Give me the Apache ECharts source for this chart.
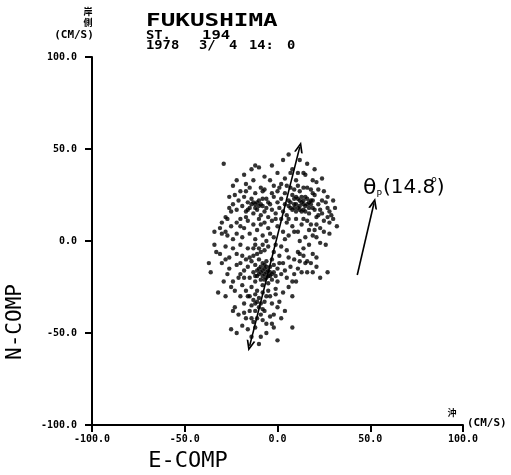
<!DOCTYPE html>
<html>
<head>
<meta charset="utf-8">
<script src="https://cdn.jsdelivr.net/npm/echarts@6/dist/echarts.min.js"></script>
<style>html,body{margin:0;padding:0;background:#fff}#c{width:511px;height:475px}</style>
</head>
<body>
<div id="c"></div>
<script>
// ---- data (E-COMP, N-COMP in cm/s) ----
const axisTicks = [-100, -50, 0, 50, 100];
const titleLines = ['FUKUSHIMA', 'ST.', '194', '1978', '3/', '4', '14:', '0'];
const principalAxis = [[-15, -57], [12, 51]];
const thetaArrow = [[43, -18.5], [52, 20.5]];
const thetaLabel = '14.8';

const upperOuter = [[-29,42],[-14,39],[-12,41],[-10,40],[-7,35],[0,37],[-4,33],[8,39],[7,37],[16,42],[11,37],[14,37],[15,36],[19,33],[21,32],[-9,29],[-7,28],[-2,30],[1,29],[4,26],[7,29],[9,28],[11,30],[16,29],[25,27],[3,44],[-18,36],[-22,33],[-17,31],[-13,33],[12,44],[6,47],[-24,30],[20,39],[24,34],[-3,41],[4,34],[10,33],[18,28],[-20,27],[-15,29],[27,24],[30,22],[-17,27],[-12,26],[-8,27],[-3,26],[0,27],[2,31],[5,30],[12,27],[14,29],[19,26],[22,28]];
const upperCore = [[-26,24],[-28,13],[-31,7],[-27,12],[25,11],[29,14],[27,13],[28,10],[23,7],[27,18],[31,18],[30,12],[32,8],[-24,20],[-22,17],[-21,22],[-19,19],[-18,24],[-17,16],[-16,21],[-15,18],[-14,23],[-13,15],[-12,20],[-11,17],[-10,22],[-9,14],[-8,19],[-7,16],[-6,23],[-5,13],[-4,20],[-3,17],[-2,24],[-1,15],[0,21],[1,18],[2,23],[3,16],[4,20],[5,14],[6,22],[7,18],[8,25],[9,20],[10,16],[11,23],[12,19],[13,21],[14,17],[15,24],[16,20],[17,15],[18,22],[19,18],[20,25],[21,13],[22,20],[23,17],[24,22],[6,19],[7,21],[8,17],[9,23],[10,20],[11,18],[12,22],[13,16],[14,20],[15,19],[16,23],[17,18],[18,20],[19,22],[20,17],[9,18],[10,24],[12,17],[13,24],[14,22],[15,16],[17,21],[-14,20],[-12,18],[-10,19],[-13,21],[-11,21],[-9,20],[-16,17],[-8,23],[-6,18],[-5,21],[-25,16],[-23,25],[26,21],[28,16],[24,15],[-26,18],[22,14],[14,12],[-17,13]];
const midBand = [[-34,5],[-30,4],[-28,5],[-27,3],[-22,10],[-20,12],[-18,7],[-16,11],[-15,4],[-13,9],[-11,6],[-10,12],[-8,3],[-7,10],[-5,7],[-3,11],[-2,2],[0,8],[2,12],[3,5],[5,10],[6,3],[8,8],[10,12],[11,5],[13,9],[15,2],[16,11],[18,9],[19,3],[21,2],[20,6],[23,-1],[26,-2],[28,4],[-25,8],[-19,2],[-12,1],[4,1],[12,0],[-24,1],[-6,0],[17,6],[-20,8],[21,9],[-30,10],[-22,4],[-9,9],[-1,12],[6,12],[9,5],[25,5],[-4,4]];
const lowerOuter = [[-33,-6],[-31,-7],[-37,-12],[-36,-17],[-32,-28],[-28,-30],[-24,-38],[-23,-36],[-25,-48],[-22,-50],[-19,-46],[-16,-48],[-10,-56],[-9,-52],[0,-54],[-2,-47],[8,-47],[-8,-43],[-4,-41],[-2,-40],[1,-33],[0,-36],[5,-20],[9,-18],[13,-17],[16,-17],[19,-17],[23,-20],[27,-17],[12,-11],[15,-12],[16,-11],[11,-6],[12,-7],[19,-7],[21,-9],[-28,-3],[-26,-9],[-24,-4],[-22,-13],[-27,-18],[-29,-22],[-25,-25],[-21,-20],[-20,-30],[-18,-34],[-21,-40],[-17,-42],[-14,-52],[-12,-47],[-6,-50],[-3,-45],[2,-42],[4,-38],[3,-28],[6,-25],[8,-30],[7,-14],[9,-10],[5,-5],[2,-3],[-1,-2],[14,-4],[17,-2],[10,-22],[3,-12],[-30,-12],[-34,-2],[-19,-8],[-23,-27],[-15,-38],[-26,-15],[-24,-22],[-22,-7],[-20,-12],[1,-8],[4,-16],[6,-9],[8,-22],[11,-15],[14,-8],[18,-12],[21,-14],[-2,-6],[-5,-3],[-16,-4],[-20,-2],[-28,-10],[-18,-39],[-6,-45]];
const lowerCore = [[-16,-14],[-15,-20],[-14,-11],[-14,-25],[-13,-17],[-13,-8],[-12,-22],[-12,-13],[-11,-19],[-11,-27],[-10,-15],[-10,-10],[-9,-21],[-9,-17],[-8,-12],[-8,-24],[-7,-18],[-7,-15],[-6,-20],[-6,-11],[-5,-16],[-5,-23],[-4,-14],[-4,-19],[-3,-10],[-3,-21],[-2,-17],[-2,-13],[-1,-19],[0,-15],[0,-22],[1,-12],[2,-18],[-8,-16],[-7,-21],[-6,-17],[-5,-19],[-9,-14],[-10,-18],[-11,-16],[-12,-19],[-7,-13],[-4,-17],[-3,-18],[-6,-14],[-8,-19],[-15,-9],[-17,-10],[-18,-16],[-20,-18],[-19,-24],[-17,-27],[-18,-20],[-1,-26],[-4,-30]];
const lowerStreak = [[-12,-2],[-10,-4],[-9,-6],[-11,-7],[-8,-2],[-13,-4],[-7,-5],[-12,-29],[-10,-31],[-9,-34],[-11,-33],[-8,-28],[-13,-32],[-10,-36],[-12,-38],[-9,-40],[-11,-42],[-7,-33],[-14,-35],[-6,-30],[-8,-37],[-5,-27],[-13,-44],[-15,-30],[-16,-30],[-14,-42],[-12,-34],[-7,-38],[-3,-34],[-1,-29]];

const points = [].concat(upperOuter, upperCore, midBand, lowerOuter, lowerCore, lowerStreak);

const chart = echarts.init(document.getElementById('c'), null, {renderer: 'canvas'});
const mono = '"DejaVu Sans Mono", "Liberation Mono", monospace';
const hand = '"Liberation Sans Narrow", "DejaVu Sans", sans-serif';
const chevron = 'path://M5,0 L10,10 L8,10 L5,4 L2,10 L0,10 Z';

function axisCommon() {
  return {
    type: 'value',
    min: axisTicks[0], max: axisTicks[axisTicks.length - 1],
    interval: axisTicks[1] - axisTicks[0],
    axisLine: {show: true, onZero: false, lineStyle: {color: '#000', width: 2}},
    axisTick: {show: true, inside: false, length: 7, lineStyle: {color: '#000', width: 2}},
    splitLine: {show: false},
    axisLabel: {color: '#000', fontFamily: mono, fontWeight: 'bold', fontSize: 10,
                formatter: v => v.toFixed(1)}
  };
}
const xAxis = axisCommon(); xAxis.axisLabel.margin = 9;
const yAxis = axisCommon(); yAxis.axisLabel.margin = 15;

const option = {
  backgroundColor: '#fff',
  animation: false,
  grid: {left: 92, right: 48, top: 57, bottom: 50},
  xAxis: xAxis,
  yAxis: yAxis,
  series: [{
    type: 'scatter',
    data: points,
    symbol: 'circle',
    symbolSize: 4.4,
    itemStyle: {color: '#000'},
    markLine: {
      silent: true,
      symbol: [chevron, chevron],
      symbolSize: [9, 11],
      label: {show: false},
      lineStyle: {color: '#000', width: 1.6, type: 'solid'},
      data: [
        [{coord: principalAxis[0], symbol: chevron}, {coord: principalAxis[1], symbol: chevron}],
        [{coord: thetaArrow[0], symbol: 'none'}, {coord: thetaArrow[1], symbol: chevron}]
      ]
    }
  }],
  graphic: [
    {type: 'text', x: 146, y: 21.5, scaleX: 1.35, style: {text: titleLines[0], font: 'bold 18px ' + mono, fill: '#000', verticalAlign: 'middle'}},
    {type: 'text', x: 146, y: 36, scaleX: 1.15, style: {text: titleLines[1], font: 'bold 12px ' + mono, fill: '#000', verticalAlign: 'middle'}},
    {type: 'text', x: 202, y: 36, scaleX: 1.3, style: {text: titleLines[2], font: 'bold 12px ' + mono, fill: '#000', verticalAlign: 'middle'}},
    {type: 'text', x: 146, y: 45.5, scaleX: 1.15, style: {text: titleLines[3], font: 'bold 12px ' + mono, fill: '#000', verticalAlign: 'middle'}},
    {type: 'text', x: 199, y: 45.5, scaleX: 1.15, style: {text: titleLines[4], font: 'bold 12px ' + mono, fill: '#000', verticalAlign: 'middle'}},
    {type: 'text', x: 229, y: 45.5, scaleX: 1.15, style: {text: titleLines[5], font: 'bold 12px ' + mono, fill: '#000', verticalAlign: 'middle'}},
    {type: 'text', x: 249, y: 45.5, scaleX: 1.15, style: {text: titleLines[6], font: 'bold 12px ' + mono, fill: '#000', verticalAlign: 'middle'}},
    {type: 'text', x: 287, y: 45.5, scaleX: 1.15, style: {text: titleLines[7], font: 'bold 12px ' + mono, fill: '#000', verticalAlign: 'middle'}},
    {type: 'text', x: 88, y: 12, style: {text: '岸', font: 'bold 9px "Noto Sans CJK JP"', fill: '#000', align: 'center', verticalAlign: 'middle'}},
    {type: 'text', x: 88, y: 23, style: {text: '側', font: 'bold 9px "Noto Sans CJK JP"', fill: '#000', align: 'center', verticalAlign: 'middle'}},
    {type: 'text', x: 74, y: 35, scaleX: 1.1, style: {text: '(CM/S)', font: 'bold 10px ' + mono, fill: '#000', align: 'center', verticalAlign: 'middle'}},
    {type: 'text', x: 452, y: 413, style: {text: '沖', font: 'bold 9px "Noto Sans CJK JP"', fill: '#000', align: 'center', verticalAlign: 'middle'}},
    {type: 'text', x: 467, y: 423, scaleX: 1.1, style: {text: '(CM/S)', font: 'bold 10px ' + mono, fill: '#000', verticalAlign: 'middle'}},
    {type: 'text', x: 188, y: 461, style: {text: 'E-COMP', font: '22px ' + mono, fill: '#000', align: 'center', verticalAlign: 'middle'}},
    {type: 'text', x: 16, y: 322, rotation: Math.PI / 2, style: {text: 'N-COMP', font: '21px ' + mono, fill: '#000', align: 'center', verticalAlign: 'middle'}},
    {type: 'text', x: 363, y: 188, style: {
      text: '{t|θ}{s|P}{n|(' + thetaLabel + '}{d|o}{n|)}',
      fill: '#000', verticalAlign: 'middle',
      rich: {
        t: {font: '22px ' + hand, fill: '#000'},
        s: {font: '9px ' + hand, fill: '#000', padding: [14, 1, 0, 0]},
        n: {font: '20px ' + hand, fill: '#000'},
        d: {font: '9px ' + hand, fill: '#000', padding: [0, 0, 16, -4]}
      }
    }}
  ]
};
chart.setOption(option);
</script>
</body>
</html>
